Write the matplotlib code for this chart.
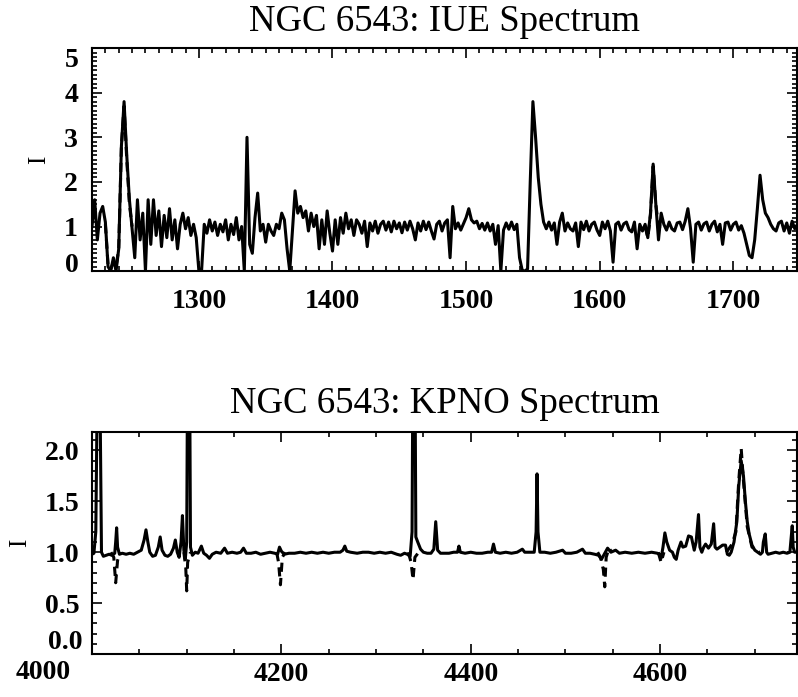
import numpy as np
import matplotlib
matplotlib.use("Agg")
import matplotlib.pyplot as plt
from matplotlib.ticker import MultipleLocator, FuncFormatter

# ---------------- data: IUE (ultraviolet) spectrum ----------------
iue_wave = np.arange(1220, 1750, 2)
iue_flux = [
    1.0, 1.6, 0.7, 1.3, 1.45, 1.1, 0.1, 0.0, 0.3, 0.0,          # 1220-1238
    0.5, 2.8, 3.8, 2.6, 1.6, 0.95, 0.3, 1.6, 0.7, 1.3,          # 1240-1258
    0.0, 1.6, 0.6, 1.6, 0.8, 1.35, 0.55, 1.25, 0.75, 1.4,       # 1260-1278
    0.7, 1.15, 0.5, 1.05, 1.3, 0.95, 1.2, 0.8, 1.05, 0.75,      # 1280-1298
    0.0, 0.0, 1.05, 0.85, 1.15, 0.9, 1.1, 0.8, 1.05, 0.88,      # 1300-1318
    1.15, 0.7, 1.05, 0.82, 1.2, 0.7, 1.0, 0.0, 3.0, 0.6,        # 1320-1338
    0.4, 1.2, 1.75, 0.9, 1.05, 0.65, 1.05, 0.9, 0.8, 1.05,      # 1340-1358
    0.95, 1.3, 1.15, 0.5, 0.0, 0.9, 1.8, 1.3, 1.45, 1.2,        # 1360-1378
    1.35, 0.9, 1.3, 1.0, 1.25, 0.5, 1.15, 0.6, 1.35, 0.85,      # 1380-1398
    0.45, 1.15, 0.6, 1.2, 0.85, 1.3, 0.95, 1.15, 0.8, 1.15,     # 1400-1418
    1.05, 0.85, 1.12, 0.55, 1.08, 0.9, 1.12, 0.85, 1.05, 1.12,  # 1420-1438
    0.92, 1.1, 0.88, 1.12, 0.95, 1.08, 0.86, 1.1, 0.92, 1.12,   # 1440-1458
    0.95, 0.7, 1.08, 0.9, 1.12, 0.93, 1.1, 0.9, 0.72, 1.05,     # 1460-1478
    1.12, 0.9, 1.08, 1.15, 0.3, 1.45, 0.95, 1.08, 0.92, 1.06,   # 1480-1498
    1.2, 1.4, 1.15, 1.08, 1.12, 0.95, 1.07, 0.92, 1.08, 0.9,    # 1500-1518
    1.05, 0.6, 1.02, 0.0, 0.92, 1.08, 0.94, 1.1, 0.93, 1.05,    # 1520-1538
    0.3, 0.02, 0.0, 0.05, 2.0, 3.8, 3.0, 2.1, 1.5, 1.1,         # 1540-1558
    0.95, 1.1, 0.92, 1.08, 0.6, 1.1, 1.3, 0.9, 1.08, 0.95,      # 1560-1578
    0.9, 1.08, 0.55, 1.1, 0.93, 1.12, 0.9, 1.05, 1.1, 0.92,     # 1580-1598
    0.8, 1.1, 0.95, 1.12, 0.9, 0.2, 1.05, 1.1, 0.92, 1.06,      # 1600-1618
    1.1, 0.93, 0.88, 1.1, 0.5, 1.05, 0.9, 1.05, 0.75, 1.3,      # 1620-1638
    2.4, 1.5, 0.7, 1.3, 1.05, 0.92, 1.1, 0.95, 0.9, 1.08,       # 1640-1658
    1.1, 0.93, 1.12, 1.4, 0.95, 0.2, 1.05, 1.1, 0.92, 1.06,     # 1660-1678
    1.1, 0.9, 1.05, 1.12, 0.88, 1.05, 0.6, 1.08, 1.1, 0.92,     # 1680-1698
    1.05, 1.1, 0.92, 1.02, 0.85, 0.6, 0.35, 0.3, 0.7, 1.4,      # 1700-1718
    2.15, 1.6, 1.3, 1.2, 1.05, 0.95, 0.9, 1.08, 1.12, 0.9,      # 1720-1738
    1.08, 0.85, 1.12, 0.95, 1.05,                               # 1740-1748
]
nan = float("nan")
iue_model_wave = [1230, 1232, 1234, 1236, 1238, 1240, 1242, 1244, 1246, 1248, 1250, 1252,
                  1634, 1636, 1638, 1640, 1642, 1644, 1646]
iue_model_flux = [1.05, 0.15, 0.05, 0.2, 0.1, 0.5, 2.8, 3.7, 2.5, 1.5, 1.0, nan,
                  1.0, 0.75, 1.25, 2.35, 1.5, 1.0, 1.0]

# ---------------- data: KPNO (optical) spectrum ----------------
kpno_wave = [
    4000, 4002, 4004, 4006, 4008, 4010, 4012, 4015, 4018, 4021,
    4024, 4025, 4026, 4027, 4029, 4032, 4036, 4040, 4044, 4048,
    4052, 4055, 4057, 4059, 4061, 4064, 4067, 4070, 4072, 4074,
    4077, 4080, 4083, 4086, 4088, 4090, 4092, 4094, 4095.5, 4097,
    4098.5, 4100, 4101, 4103, 4104, 4106, 4109, 4112, 4115.5, 4118,
    4121, 4124, 4127, 4131, 4136, 4140, 4143, 4148, 4153, 4157,
    4160, 4163, 4168, 4173, 4178, 4183, 4188, 4193, 4196, 4198,
    4200, 4203, 4208, 4214, 4220, 4226, 4232, 4238, 4244, 4250,
    4256, 4262, 4265, 4267, 4269, 4273, 4280, 4286, 4292, 4298,
    4304, 4310, 4316, 4322, 4326, 4330, 4333, 4336, 4338, 4339,
    4341, 4342, 4344, 4347, 4350, 4354, 4358, 4361, 4363, 4365,
    4368, 4372, 4377, 4382, 4386, 4387.5, 4389, 4394, 4400, 4406,
    4412, 4418, 4422, 4424, 4426, 4431, 4437, 4443, 4449, 4454.5,
    4457, 4462, 4467, 4469, 4470, 4471, 4473, 4478, 4484, 4490,
    4497, 4500, 4506, 4512, 4518, 4521, 4526, 4531, 4535, 4538,
    4541, 4544.5, 4548, 4553, 4557, 4563, 4570, 4577, 4584, 4591,
    4597, 4599, 4601, 4603, 4605, 4607, 4610, 4613, 4615, 4617,
    4619, 4622, 4624, 4627, 4630, 4633, 4636, 4638, 4640.5, 4642,
    4644, 4646, 4648, 4651, 4654, 4656.5, 4658, 4660, 4663, 4666,
    4669, 4671, 4673, 4675, 4678, 4681, 4683, 4685.6, 4688, 4690,
    4692, 4694, 4697, 4700, 4703, 4706, 4708, 4709, 4711, 4712.5,
    4714, 4718, 4722, 4726, 4730, 4734, 4737, 4738.5, 4739.5, 4740.5,
    4742, 4745,
]
kpno_flux = [
    0.98, 0.99, 1.2, 3.0, 3.0, 1.0, 0.96, 0.97, 0.98, 0.97,
    0.99, 1.1, 1.24, 1.05, 0.98, 0.99, 0.98, 0.99, 0.98, 1.0,
    1.02, 1.12, 1.22, 1.1, 1.0, 0.96, 0.97, 1.05, 1.15, 1.02,
    0.97, 0.96, 0.98, 1.04, 1.12, 1.0, 0.95, 1.1, 1.36, 1.02,
    0.93, 1.1, 3.0, 3.0, 1.05, 0.97, 1.0, 0.99, 1.06, 0.99,
    0.97, 0.94, 0.98, 1.0, 0.99, 1.04, 0.99, 1.0, 0.99, 1.0,
    1.04, 0.99, 0.99, 1.0, 0.98, 0.99, 1.0, 0.99, 0.98, 1.05,
    1.01, 0.98, 0.99, 0.99, 1.0, 0.99, 1.0, 0.99, 1.0, 0.99,
    1.0, 1.0, 1.02, 1.06, 1.01, 1.0, 0.99, 1.0, 1.0, 0.99,
    1.0, 0.99, 1.0, 0.98, 0.97, 0.99, 0.98, 0.96, 1.2, 3.0,
    3.0, 1.15, 1.1, 1.03, 1.0, 0.99, 0.99, 1.03, 1.3, 1.02,
    0.99, 0.99, 0.99, 1.0, 1.0, 1.06, 1.0, 0.99, 1.0, 0.99,
    0.99, 1.0, 1.0, 1.08, 1.0, 0.99, 1.0, 0.99, 1.0, 1.03,
    1.0, 1.0, 1.0, 1.2, 1.77, 1.2, 1.0, 1.0, 0.99, 1.0,
    1.02, 0.99, 0.99, 1.0, 1.03, 0.99, 0.99, 0.98, 0.97, 0.93,
    0.98, 1.04, 1.0, 1.02, 0.99, 1.0, 0.99, 1.0, 0.99, 1.0,
    0.99, 0.98, 0.94, 1.05, 1.19, 1.1, 1.02, 1.0, 0.95, 0.93,
    1.02, 1.1, 1.05, 1.06, 1.16, 1.15, 1.02, 1.1, 1.37, 1.05,
    1.0, 1.05, 1.08, 1.04, 1.08, 1.28, 1.05, 1.03, 1.05, 1.07,
    1.07, 0.98, 0.97, 1.0, 1.1, 1.3, 1.65, 1.9, 1.75, 1.5,
    1.3, 1.18, 1.07, 1.02, 1.0, 0.98, 1.0, 1.1, 1.18, 1.0,
    0.98, 0.99, 1.0, 0.99, 1.0, 0.99, 1.0, 1.15, 1.26, 1.05,
    1.0, 1.0,
]
kpno_model_wave = [4020, 4023, 4025, 4027, 4030, 4031,
                   4097, 4099, 4100, 4101, 4104, 4105,
                   4195, 4197, 4199, 4201, 4204, 4205,
                   4334, 4337, 4339, 4341, 4345, 4346,
                   4534, 4537, 4540, 4541.5, 4543, 4546, 4549, 4550,
                   4598, 4601, 4604, 4605,
                   4670, 4676, 4680, 4683, 4685.6, 4688, 4692, 4697, 4705]
kpno_model_flux = [1.0, 0.95, 0.7, 0.92, 1.0, nan,
                   1.0, 0.85, 0.62, 0.9, 1.0, nan,
                   1.0, 0.9, 0.68, 0.95, 1.0, nan,
                   1.0, 0.9, 0.73, 0.95, 1.0, nan,
                   1.0, 0.95, 0.83, 0.66, 0.95, 1.04, 1.0, nan,
                   1.0, 0.9, 1.0, nan,
                   1.0, 1.08, 1.2, 1.7, 2.02, 1.7, 1.25, 1.05, 1.0]

titles = ["NGC 6543: IUE Spectrum", "NGC 6543: KPNO Spectrum"]

# ---------------- figure ----------------
serif = ["Liberation Serif", "DejaVu Serif"]
plt.rcParams["font.family"] = serif
TICKFS = 20

fig = plt.figure(figsize=(7.98, 6.97), dpi=100)
ax1 = fig.add_axes([0.1153, 0.611, 0.884, 0.320])
ax2 = fig.add_axes([0.1153, 0.0617, 0.884, 0.3183])

lw = 2.2
for ax in (ax1, ax2):
    for s in ax.spines.values():
        s.set_linewidth(1.5)
    ax.tick_params(which="both", direction="in", top=True, right=True,
                   width=1.2, labelsize=TICKFS)
    ax.tick_params(which="major", length=7.5)
    ax.tick_params(which="minor", length=3.5)
    ax.set_ylabel("I", fontsize=18, labelpad=10)


def edge_label(ax, text, xy, coords, offset, ha, va):
    """Tick labels at the axis ends, which the original sets slightly inward."""
    ax.annotate(text, xy=xy, xycoords=coords, xytext=offset,
                textcoords="offset pixels", ha=ha, va=va,
                fontsize=TICKFS, fontweight="bold")


# top panel
ax1.plot(iue_wave, iue_flux, color="black", lw=lw)
ax1.plot(iue_model_wave, iue_model_flux, color="black", lw=lw, ls=(0, (3, 2)))
ax1.set_xlim(1220, 1748)
ax1.set_ylim(0, 5)
ax1.xaxis.set_major_locator(MultipleLocator(100))
ax1.xaxis.set_minor_locator(MultipleLocator(10))
ax1.yaxis.set_major_locator(MultipleLocator(1))
ax1.yaxis.set_minor_locator(MultipleLocator(0.1))
ax1.yaxis.set_major_formatter(FuncFormatter(lambda v, p: "" if v in (0, 5) else "%d" % v))
ax1.tick_params(axis="x", which="major", pad=13)
ax1.tick_params(axis="y", which="major", pad=10)
ax1.set_title(titles[0], fontsize=26.5, pad=12)
edge_label(ax1, "0", (0, 0), ("axes fraction", "data"), (-13, 9), "right", "center_baseline")
edge_label(ax1, "5", (0, 5), ("axes fraction", "data"), (-13, -9), "right", "center_baseline")

# bottom panel
ax2.plot(kpno_wave, kpno_flux, color="black", lw=lw)
ax2.plot(kpno_model_wave, kpno_model_flux, color="black", lw=lw, ls=(0, (3, 2)))
ax2.set_xlim(4000, 4745)
ax2.set_ylim(0, 2.18)
ax2.xaxis.set_major_locator(MultipleLocator(200))
ax2.xaxis.set_minor_locator(MultipleLocator(50))
ax2.xaxis.set_major_formatter(FuncFormatter(lambda v, p: "" if v < 4100 else "%d" % v))
ax2.yaxis.set_major_locator(MultipleLocator(0.5))
ax2.yaxis.set_minor_locator(MultipleLocator(0.1))
ax2.yaxis.set_major_formatter(FuncFormatter(lambda v, p: "" if v == 0 else "%.1f" % v))
ax2.tick_params(axis="x", which="major", pad=6)
ax2.tick_params(axis="y", which="major", pad=9)
ax2.set_title(titles[1], fontsize=26.5, pad=14)
edge_label(ax2, "4000", (4000, 0), ("data", "axes fraction"), (-49, -6), "center", "top")
edge_label(ax2, "0.0", (0, 0), ("axes fraction", "data"), (-10, 14), "right", "center_baseline")

plt.setp(ax1.get_xticklabels() + ax1.get_yticklabels() + ax2.get_xticklabels()
         + ax2.get_yticklabels(), fontweight="bold")

fig.savefig("out.png", dpi=100)
